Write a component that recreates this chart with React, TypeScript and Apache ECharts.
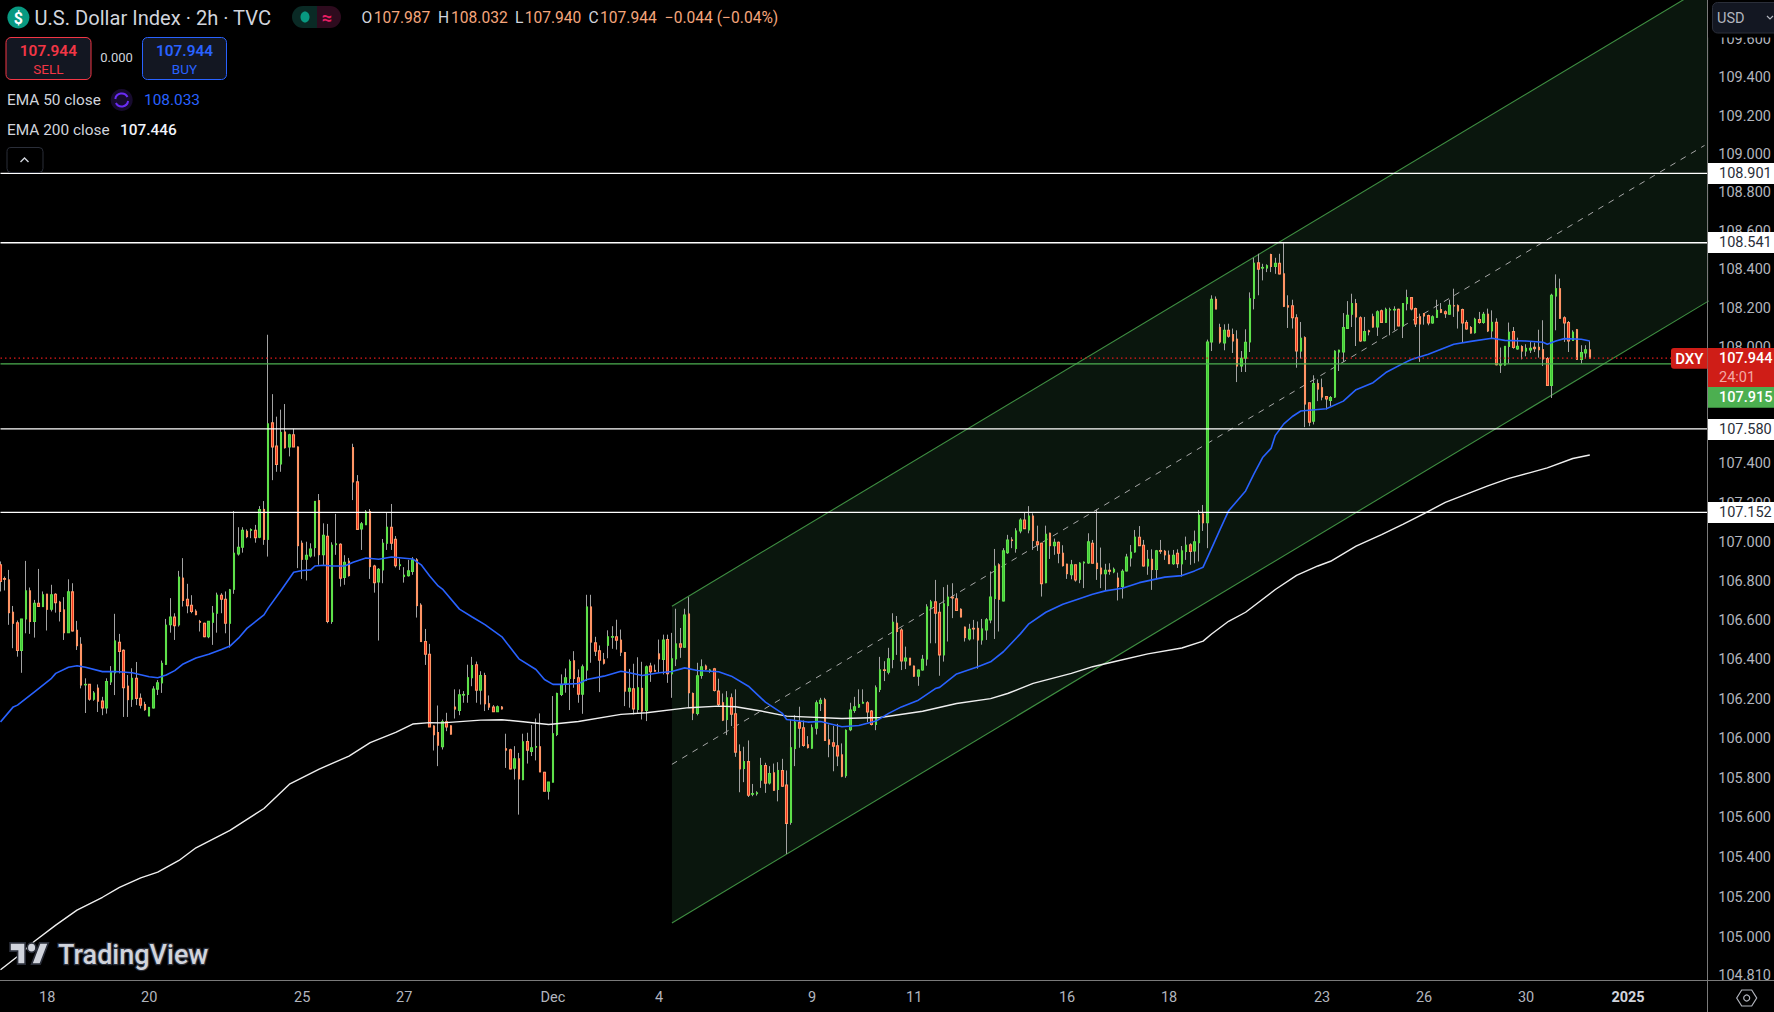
import React, { useEffect, useRef } from "react";
import * as echarts from "echarts";

const opens = [
106.884,106.814,106.807,106.642,106.588,106.447,106.608,106.751,106.595,106.688,
106.671,106.734,106.657,106.734,106.693,106.654,106.538,106.746,106.550,106.479,
106.273,106.275,106.200,106.256,106.190,106.156,106.288,106.334,106.489,106.448,
106.266,106.200,106.306,106.204,106.173,106.115,106.156,106.251,106.283,106.377,
106.578,106.617,106.578,106.816,106.708,106.678,106.647,106.595,106.586,106.518,
106.591,106.637,106.729,106.708,106.586,106.759,106.940,106.974,107.055,107.060,
107.060,107.025,107.167,107.014,107.611,107.492,107.400,107.564,107.487,107.550,
107.487,106.994,106.912,106.929,106.972,107.212,106.936,107.030,106.595,106.987,
106.989,106.819,106.902,107.484,107.308,107.067,107.089,107.156,106.878,106.797,
106.858,106.994,107.076,107.014,106.880,106.824,106.829,106.850,106.909,106.678,
106.493,106.428,106.064,106.031,105.959,106.086,106.065,106.160,106.143,106.221,
106.224,106.309,106.375,106.246,106.320,106.177,106.160,106.136,106.160,105.949,
105.944,105.851,105.898,105.793,105.986,105.935,105.957,105.959,105.830,105.734,
105.780,106.021,106.224,106.275,106.305,106.395,106.309,106.226,106.348,106.669,
106.486,106.446,106.400,106.474,106.515,106.517,106.500,106.437,106.241,106.253,
106.148,106.255,106.143,106.368,106.346,106.430,106.402,106.503,106.329,106.405,
106.481,106.464,106.633,106.229,106.128,106.320,106.368,106.344,106.354,106.241,
106.182,106.097,106.207,106.126,105.934,105.849,105.884,105.719,105.722,105.790,
105.864,105.776,105.827,105.743,105.839,105.766,105.577,105.950,106.081,106.055,
105.969,105.952,106.053,106.179,106.197,105.994,105.979,105.964,105.918,105.813,
106.045,106.143,106.160,106.180,106.182,106.140,106.072,106.250,106.349,106.337,
106.402,106.586,106.552,106.394,106.408,106.368,106.317,106.348,106.404,106.668,
106.695,106.642,106.425,106.676,106.719,106.710,106.657,106.566,106.506,106.560,
106.560,106.501,106.552,106.603,106.712,106.884,106.700,106.946,107.011,106.967,
107.057,107.113,107.062,107.133,107.001,106.994,106.793,107.045,106.982,106.999,
106.943,106.887,106.833,106.884,106.810,106.894,106.894,106.994,106.892,106.867,
106.838,106.856,106.848,106.816,106.773,106.853,106.919,106.950,107.025,106.984,
106.878,106.912,106.860,106.957,106.953,106.933,106.889,106.943,106.889,106.952,
106.986,106.955,106.997,107.144,107.099,108.028,108.248,108.102,108.023,108.088,
108.066,108.042,107.904,107.944,108.028,108.253,108.437,108.410,108.410,108.480,
108.418,108.434,108.380,108.215,108.215,108.153,107.981,108.050,107.715,107.620,
107.813,107.792,107.746,107.727,107.744,107.976,107.976,108.098,108.171,108.226,
108.153,108.035,108.085,108.158,108.105,108.189,108.129,108.193,108.193,108.196,
108.110,108.226,108.257,108.200,108.158,108.174,108.164,108.126,108.155,108.195,
108.184,108.171,108.215,108.215,108.195,108.128,108.102,108.076,108.143,108.128,
108.171,108.085,108.129,107.909,107.909,108.005,108.081,107.992,108.004,107.981,
107.986,108.000,108.000,107.988,107.942,107.804,108.265,108.303,108.153,108.128,
108.036,108.091,107.938,107.971,107.987];

const highs = [
106.901,106.824,106.858,106.674,106.600,106.608,106.904,106.768,106.705,106.863,
106.748,106.734,106.782,106.739,106.700,106.719,106.810,106.790,106.598,106.515,
106.306,106.275,106.241,106.275,106.212,106.306,106.368,106.634,106.532,106.453,
106.323,106.357,106.389,106.229,106.187,106.161,106.266,106.297,106.396,106.608,
106.714,106.637,106.853,106.918,106.787,106.729,106.657,106.603,106.589,106.596,
106.674,106.742,106.739,106.748,106.761,107.159,107.076,107.076,107.065,107.070,
107.088,107.184,107.210,108.065,107.759,107.643,107.679,107.708,107.555,107.581,
107.490,107.008,107.002,106.994,107.208,107.246,107.096,107.093,106.999,107.144,
106.994,106.933,106.919,107.504,107.343,107.103,107.164,107.169,106.884,106.867,
107.016,107.150,107.195,107.031,106.916,106.872,106.909,106.923,106.918,106.688,
106.557,106.481,106.068,106.168,106.097,106.131,106.067,106.250,106.250,106.241,
106.375,106.415,106.391,106.342,106.334,106.219,106.170,106.168,106.165,106.025,
105.949,105.962,105.928,106.025,106.030,106.069,106.102,106.128,105.832,105.781,
106.216,106.233,106.326,106.356,106.402,106.444,106.351,106.376,106.731,106.731,
106.517,106.473,106.435,106.550,106.571,106.604,106.554,106.440,106.354,106.380,
106.413,106.390,106.371,106.385,106.376,106.503,106.528,106.528,106.537,106.660,
106.562,106.660,106.719,106.234,106.385,106.402,106.376,106.354,106.359,106.304,
106.229,106.241,106.229,106.250,105.971,105.959,105.991,105.771,105.734,105.903,
105.878,105.861,105.874,105.881,105.898,105.839,106.097,106.119,106.162,106.092,
106.013,106.072,106.194,106.207,106.207,106.072,106.064,106.075,105.976,106.047,
106.182,106.212,106.250,106.250,106.190,106.145,106.270,106.415,106.393,106.461,
106.637,106.623,106.561,106.467,106.409,106.370,106.351,106.425,106.683,106.705,
106.807,106.688,106.770,106.782,106.790,106.739,106.662,106.569,106.583,106.603,
106.595,106.608,106.612,106.850,106.965,106.892,106.969,107.037,107.025,107.071,
107.122,107.152,107.184,107.147,107.084,106.997,107.084,107.048,107.018,107.003,
106.984,106.889,106.909,106.885,106.897,106.901,107.045,107.011,107.167,106.972,
106.889,106.892,106.870,106.844,106.861,106.940,106.985,107.062,107.082,107.011,
106.960,106.963,106.960,107.011,106.960,106.957,106.960,106.963,106.980,107.028,
106.994,107.059,107.164,107.190,108.040,108.269,108.263,108.122,108.119,108.122,
108.097,108.088,107.981,108.093,108.284,108.463,108.484,108.432,108.429,108.484,
108.463,108.484,108.539,108.269,108.246,108.171,108.131,108.057,107.715,107.856,
107.835,107.839,107.749,107.749,107.985,107.988,108.177,108.239,108.277,108.250,
108.160,108.157,108.091,108.174,108.191,108.195,108.205,108.205,108.212,108.200,
108.229,108.298,108.260,108.205,108.174,108.177,108.169,108.165,108.246,108.229,
108.191,108.246,108.303,108.222,108.200,108.140,108.110,108.153,108.183,108.183,
108.200,108.191,108.150,107.999,108.007,108.128,108.105,108.050,108.011,108.016,
108.029,108.024,108.091,108.140,107.950,108.277,108.377,108.355,108.160,108.136,
108.088,108.095,108.011,108.011,108.032];

const lows = [
106.748,106.753,106.578,106.459,106.416,106.334,106.535,106.532,106.513,106.671,
106.671,106.549,106.646,106.640,106.595,106.501,106.538,106.544,106.450,106.255,
106.130,106.192,106.192,106.135,106.119,106.127,106.272,106.221,106.331,106.110,
106.110,106.161,106.170,106.153,106.141,106.115,106.153,106.221,106.232,106.374,
106.538,106.501,106.569,106.671,106.637,106.637,106.627,106.544,106.515,106.510,
106.476,106.538,106.637,106.535,106.462,106.736,106.931,106.946,107.020,107.020,
106.997,107.020,106.986,106.926,107.317,107.360,107.360,107.479,107.439,107.487,
106.867,106.812,106.804,106.921,106.926,106.884,106.884,106.586,106.583,106.935,
106.773,106.782,106.824,107.215,107.062,106.960,107.088,106.812,106.742,106.498,
106.790,106.960,106.960,106.870,106.858,106.793,106.824,106.833,106.615,106.493,
106.374,106.059,105.940,105.861,105.945,106.038,106.021,106.102,106.119,106.182,
106.182,106.266,106.182,106.173,106.140,106.145,106.135,106.135,106.148,105.852,
105.844,105.793,105.616,105.790,105.874,105.912,105.890,105.832,105.734,105.692,
105.780,106.013,106.216,106.233,106.145,106.258,106.182,106.126,106.292,106.385,
106.419,106.236,106.376,106.408,106.456,106.452,106.419,106.165,106.157,106.123,
106.131,106.097,106.089,106.288,106.341,106.334,106.326,106.283,106.207,106.368,
106.410,106.461,106.157,106.094,106.118,106.304,106.348,106.334,106.239,106.165,
106.089,106.018,106.064,105.908,105.729,105.780,105.705,105.709,105.712,105.751,
105.726,105.768,105.737,105.683,105.756,105.418,105.565,105.861,105.954,105.959,
105.950,105.949,106.021,106.140,105.988,105.906,105.835,105.861,105.805,105.802,
106.038,106.131,106.157,106.179,106.084,106.067,106.043,106.236,106.292,106.326,
106.357,106.425,106.348,106.353,106.372,106.314,106.268,106.345,106.370,106.484,
106.484,106.319,106.391,106.493,106.612,106.649,106.617,106.493,106.498,106.504,
106.355,106.477,106.501,106.586,106.506,106.544,106.697,106.940,106.969,106.946,
107.045,107.067,107.045,106.960,106.955,106.722,106.790,106.914,106.935,106.892,
106.875,106.812,106.810,106.798,106.790,106.765,106.889,106.892,106.807,106.765,
106.751,106.833,106.841,106.702,106.712,106.850,106.875,106.946,106.980,106.875,
106.833,106.756,106.810,106.940,106.909,106.889,106.884,106.868,106.824,106.909,
106.884,106.892,106.901,107.057,106.969,107.981,108.198,108.019,107.985,108.050,
107.971,107.821,107.873,107.873,107.976,108.196,108.269,108.346,108.389,108.389,
108.380,108.377,108.208,108.100,108.097,107.895,107.942,107.589,107.594,107.603,
107.723,107.727,107.680,107.696,107.739,107.878,107.925,108.095,108.105,108.007,
108.028,108.031,108.062,108.102,108.059,108.126,108.126,108.062,108.088,108.109,
108.048,108.191,108.191,108.105,107.925,108.117,108.114,108.122,108.153,108.177,
108.152,108.169,108.157,108.097,108.026,108.091,108.071,108.071,108.122,108.122,
108.079,108.045,107.907,107.868,107.906,107.916,107.993,107.988,107.938,107.954,
107.971,107.976,107.947,107.904,107.801,107.739,108.088,108.148,108.028,107.976,
108.033,107.937,107.916,107.942,107.940];

const closes = [
106.799,106.810,106.640,106.586,106.447,106.608,106.751,106.595,106.688,106.671,
106.731,106.657,106.731,106.691,106.646,106.538,106.746,106.547,106.472,106.272,
106.275,106.200,106.231,106.190,106.156,106.290,106.338,106.496,106.442,106.258,
106.198,106.306,106.204,106.170,106.147,106.158,106.251,106.283,106.382,106.576,
106.617,106.574,106.821,106.702,106.676,106.646,106.630,106.591,106.518,106.596,
106.637,106.729,106.708,106.586,106.756,106.943,106.974,107.060,107.028,107.064,
107.023,107.167,107.014,107.606,107.487,107.397,107.562,107.484,107.550,107.487,
106.982,106.912,106.933,106.965,107.208,106.936,107.035,106.595,106.984,106.991,
106.816,106.897,106.829,107.308,107.065,107.093,107.154,106.875,106.793,106.861,
106.994,107.076,106.994,106.880,106.884,106.831,106.853,106.909,106.676,106.493,
106.428,106.059,106.020,105.967,106.086,106.059,106.023,106.150,106.222,106.224,
106.309,106.371,106.246,106.320,106.177,106.160,106.136,106.162,106.151,105.942,
105.847,105.898,105.797,105.984,105.942,105.954,105.960,105.832,105.734,105.781,
106.025,106.229,106.273,106.309,106.391,106.305,106.226,106.364,106.669,106.490,
106.444,106.398,106.383,106.517,106.518,106.500,106.439,106.241,106.255,106.151,
106.258,106.140,106.364,106.339,106.342,106.405,106.501,106.329,106.405,106.481,
106.464,106.628,106.233,106.130,106.319,106.364,106.353,106.348,106.244,106.173,
106.094,106.207,106.124,105.932,105.847,105.884,105.714,105.722,105.726,105.864,
105.775,105.824,105.739,105.839,105.759,105.572,105.954,106.084,106.053,105.966,
105.955,106.055,106.182,106.195,105.991,105.972,105.962,105.912,105.810,106.042,
106.145,106.162,106.173,106.184,106.135,106.072,106.258,106.349,106.346,106.405,
106.591,106.544,106.394,106.409,106.374,106.317,106.348,106.402,106.669,106.695,
106.637,106.425,106.685,106.719,106.715,106.651,106.618,106.513,106.555,106.557,
106.501,106.557,106.603,106.720,106.877,106.708,106.955,107.011,107.008,107.057,
107.113,107.069,107.133,107.008,106.987,106.788,107.040,106.982,106.999,106.943,
106.880,106.839,106.884,106.807,106.892,106.897,107.001,106.892,106.865,106.838,
106.856,106.851,106.861,106.773,106.851,106.923,106.948,107.025,106.982,106.878,
106.912,106.860,106.955,106.953,106.935,106.890,106.933,106.890,106.955,106.984,
106.952,107.001,107.137,107.099,108.028,108.248,108.198,108.028,108.088,108.057,
108.033,107.904,107.944,108.026,108.251,108.435,108.404,108.413,108.422,108.418,
108.434,108.380,108.212,108.208,108.153,107.981,108.047,107.708,107.615,107.813,
107.785,107.744,107.734,107.741,107.980,107.985,108.102,108.165,108.226,108.157,
108.033,108.081,108.081,108.105,108.184,108.129,108.196,108.195,108.196,108.110,
108.226,108.257,108.198,108.121,108.121,108.162,108.126,108.158,108.191,108.181,
108.174,108.217,108.214,108.188,108.126,108.095,108.074,108.145,108.128,108.171,
108.085,108.129,107.911,107.911,108.005,108.078,107.999,108.005,107.981,107.995,
107.995,107.993,107.988,107.940,107.804,108.269,108.303,108.150,108.126,108.033,
108.078,107.938,107.973,107.988,107.944];

const ema50Index = [0,3,4,8,12,13,16,18,20,24,27,31,35,37,39,41,43,46,49,52,54,56,58,62,63,66,69,71,73,74,76,78,81,83,86,89,92,97,99,101,103,104,108,111,114,118,120,122,126,128,130,132,136,138,142,146,148,151,155,158,161,164,169,172,176,180,184,185,190,193,198,202,206,209,212,216,220,221,225,230,233,236,240,242,246,250,253,257,260,264,268,271,274,278,281,283,285,287,289,293,295,297,299,300,302,304,306,312,316,319,323,326,330,332,336,342,346,351,354,359,363,364,366,368,372,374];
const ema50Value = [106.085,106.161,106.170,106.237,106.306,106.331,106.362,106.370,106.362,106.340,106.341,106.334,106.314,106.309,106.323,106.345,106.379,106.409,106.428,106.453,106.470,106.510,106.560,106.629,106.663,106.753,106.846,106.855,106.858,106.878,106.882,106.878,106.878,106.897,106.919,106.912,106.924,106.914,106.884,106.827,106.776,106.76,106.658,106.618,106.579,106.517,106.461,106.405,106.351,106.30,106.275,106.275,106.28,106.30,106.317,106.342,106.334,106.32,106.334,106.341,106.359,106.346,106.339,106.317,106.266,106.185,106.128,106.097,106.084,106.087,106.06,106.067,106.089,106.128,106.161,106.195,106.254,106.26,106.328,106.365,106.39,106.441,106.532,106.583,106.642,106.683,106.705,106.734,106.751,106.764,106.793,106.807,106.821,106.829,106.853,106.872,106.968,107.065,107.16,107.262,107.351,107.433,107.48,107.547,107.606,107.644,107.672,107.684,107.723,107.782,107.818,107.87,107.916,107.937,107.964,108.016,108.031,108.047,108.036,108.033,108.026,108.016,108.033,108.045,108.042,108.033];

const ema200Index = [0,4,8,13,18,24,28,33,37,42,46,54,62,68,75,82,87,93,97,101,104,113,118,123,129,136,146,152,162,169,173,179,185,198,207,217,225,233,237,243,252,257,262,270,278,283,285,289,293,300,305,310,313,319,325,330,335,340,345,350,355,360,364,370,374];
const ema200Value = [104.836,104.903,104.979,105.06,105.135,105.2,105.25,105.297,105.326,105.385,105.449,105.537,105.647,105.77,105.846,105.912,105.98,106.032,106.074,106.081,106.08,106.094,106.096,106.086,106.072,106.087,106.123,106.131,106.157,106.165,106.162,106.14,106.114,106.102,106.107,106.139,106.178,106.203,106.229,106.28,106.331,106.365,106.39,106.43,106.46,106.495,106.531,106.596,106.642,106.758,106.83,106.878,106.902,106.979,107.038,107.091,107.146,107.203,107.245,107.288,107.326,107.356,107.38,107.428,107.446];

const priceTicks = [109.6,109.4,109.2,109.0,108.8,108.6,108.4,108.2,108.0,107.8,107.6,107.4,107.2,107.0,106.8,106.6,106.4,106.2,106.0,105.8,105.6,105.4,105.2,105.0,104.81];
const dateTickIndex = [11,35,71,95,130,155,191,215,251,275,311,335,359,383];
const dateTickLabels = ["18","20","25","27","Dec","4","9","11","16","18","23","26","30","2025"];
const slotCount = 403;

const whiteLevels = [108.901,108.541,107.58,107.152];
const supportLevel = 107.915;
const lastPrice = 107.944;

const channelIndex = [158,402];
const channelTop = [106.673,109.888];
const channelBottom = [105.071,108.24];
const channelMidIndex = [158,401];
const channelMid = [105.87,109.047];

const FONT = "Roboto, sans-serif";
const priceMin = 104.785;
const priceMax = 109.807;
const toAxis = (p: number) => Math.log(p);

echarts.graphic.registerShape(
  "tvlogo",
  echarts.graphic.extendPath("M14 22H7V11H0V4h14v18zM28 22h-8l7.5-18h8L28 22zM24 8a4 4 0 1 1-8 0a4 4 0 1 1 8 0z", {})
);

function txt(text: string, x: number, y: number, fill: string, size: number, extra: any = {}) {
  const { weight = 400, align = "left", z = 110 } = extra;
  return {
    type: "text", z, silent: true,
    style: { text, x, y, fill, font: `${weight} ${size}px ${FONT}`, textAlign: align, textVerticalAlign: "middle" },
  };
}
function box(x: number, y: number, width: number, height: number, fill: string, extra: any = {}) {
  const { stroke, r = 0, z = 105, lineWidth = 1 } = extra;
  return {
    type: "rect", z, silent: true,
    shape: { x, y, width, height, r },
    style: stroke ? { fill, stroke, lineWidth } : { fill },
  };
}

function levelSeries(price: number, color: string, width: number, lineType: any, z: number) {
  const y = toAxis(price);
  return {
    type: "line", z, silent: true, showSymbol: false,
    data: [[0, y], [slotCount - 1, y]],
    lineStyle: { color, width, type: lineType },
  };
}

function buildGraphics() {
  const ohlc = "#f5a67c";
  const head = "#d1d4dc";
  const elems: any[] = [
    box(1708, 980.5, 66, 32, "#000", { z: 100 }),
    box(1708, 0, 66, 37.5, "#000", { z: 100 }),
    { type: "line", z: 101, silent: true, shape: { x1: 0, y1: 980.5, x2: 1774, y2: 980.5 }, style: { stroke: "#7a7a7a", lineWidth: 1 } },
    { type: "line", z: 101, silent: true, shape: { x1: 1707.5, y1: 0, x2: 1707.5, y2: 1012 }, style: { stroke: "#7a7a7a", lineWidth: 1 } },

    { type: "circle", z: 105, silent: true, shape: { cx: 18.4, cy: 17.5, r: 11 }, style: { fill: "#089981" } },
    txt("$", 18.4, 18, "#ffffff", 16, { weight: 700, align: "center" }),
    txt("U.S. Dollar Index · 2h · TVC", 34.5, 18, head, 20.1),

    box(292, 6, 25, 22, "#0a2a25", { r: [11, 0, 0, 11] }),
    box(317, 6, 24, 22, "#2e0b1e", { r: [0, 11, 11, 0] }),
    { type: "ellipse", z: 106, silent: true, shape: { cx: 305, cy: 17, rx: 4.5, ry: 5.5 }, style: { fill: "#089981" } },
    txt("≈", 327, 17, "#e91e63", 18, { weight: 700, align: "center" }),

    txt("O", 361.6, 17.5, head, 15.6),
    txt("107.987", 373.7, 17.5, ohlc, 15.6),
    txt("H", 438, 17.5, head, 15.6),
    txt("108.032", 451, 17.5, ohlc, 15.6),
    txt("L", 515, 17.5, head, 15.6),
    txt("107.940", 524.7, 17.5, ohlc, 15.6),
    txt("C", 588.4, 17.5, head, 15.6),
    txt("107.944", 600, 17.5, ohlc, 15.6),
    txt("−0.044 (−0.04%)", 664.8, 17.5, ohlc, 15.6),

    box(6, 37.5, 85, 42, "#131722", { stroke: "#f23645", r: 5 }),
    txt("107.944", 48.4, 51, "#f23645", 15.4, { weight: 600, align: "center" }),
    txt("SELL", 48.4, 68.5, "#f23645", 13.5, { align: "center" }),
    txt("0.000", 116.5, 57.5, head, 13, { align: "center" }),
    box(142.5, 37.5, 84, 42, "#131722", { stroke: "#2962ff", r: 5 }),
    txt("107.944", 184.5, 51, "#2962ff", 15.4, { weight: 600, align: "center" }),
    txt("BUY", 184.5, 68.5, "#2962ff", 13.5, { align: "center" }),

    txt("EMA 50 close", 7, 100, head, 15.4),
    { type: "circle", z: 105, silent: true, shape: { cx: 121.7, cy: 100, r: 11 }, style: { fill: "#170b2e" } },
    { type: "arc", z: 106, silent: true, shape: { cx: 121.7, cy: 100, r: 6.5, startAngle: Math.PI * 1.05, endAngle: Math.PI * 1.85 }, style: { stroke: "#6a2cf5", lineWidth: 2, fill: "none" } },
    { type: "arc", z: 106, silent: true, shape: { cx: 121.7, cy: 100, r: 6.5, startAngle: Math.PI * 0.05, endAngle: Math.PI * 0.85 }, style: { stroke: "#6a2cf5", lineWidth: 2, fill: "none" } },
    txt("108.033", 144, 100, "#2962ff", 15.4),
    txt("EMA 200 close", 7, 129.7, head, 15.4),
    txt("107.446", 120, 129.7, "#f0f3fa", 15.4, { weight: 500 }),

    box(7, 147.5, 36, 25, "#000", { stroke: "#2a2e39", r: 4 }),
    { type: "polyline", z: 106, silent: true, shape: { points: [[20.5, 162], [24.5, 158], [28.5, 162]] }, style: { stroke: "#d1d4dc", lineWidth: 1.4, fill: "none" } },

    box(1712.5, 2.5, 70, 30.5, "#131722", { stroke: "#2a2e39", r: 5 }),
    txt("USD", 1717, 18, "#b2b5be", 14.5),
    { type: "polyline", z: 106, silent: true, shape: { points: [[1767, 16], [1770, 19], [1773, 16]] }, style: { stroke: "#b2b5be", lineWidth: 1.2, fill: "none" } },
  ];
  const whites: [string, number][] = [["108.901", 163], ["108.541", 232], ["107.580", 419], ["107.152", 502]];
  whites.forEach(([t, y]) => {
    elems.push(box(1708, y, 66, 21, "#ffffff"));
    elems.push(txt(t, 1719, y + 10.8, "#2a2e39", 14.5));
  });
  elems.push(box(1671, 348, 36.5, 20.7, "#cf1d17", { r: [3, 0, 0, 3] }));
  elems.push(txt("DXY", 1689.3, 358.7, "#ffffff", 15, { weight: 500, align: "center" }));
  elems.push(box(1708, 348, 66, 39, "#cf1d17"));
  elems.push(txt("107.944", 1719, 358.7, "#ffffff", 14.5, { weight: 500 }));
  elems.push(txt("24:01", 1719, 377, "#f2a9a4", 14.5));
  elems.push(box(1708, 387, 66, 20.7, "#4caf50"));
  elems.push(txt("107.915", 1719, 397.7, "#ffffff", 14.5, { weight: 500 }));

  elems.push({
    type: "tvlogo", z: 110, silent: true, x: 10, y: 938.3, scaleX: 1.08, scaleY: 1.17,
    style: { fill: "#d1d4dc", stroke: "#2a2e39", lineWidth: 1.5 },
  });
  elems.push({
    type: "text", z: 110, silent: true,
    style: { text: "TradingView", x: 58, y: 955, fill: "#d1d4dc", stroke: "#2a2e39", lineWidth: 2.5, font: `500 27px ${FONT}`, textAlign: "left", textVerticalAlign: "middle" },
  });

  elems.push({
    type: "polygon", z: 106, silent: true,
    shape: { points: [[1736.7, 998], [1741.7, 990], [1751.7, 990], [1756.7, 998], [1751.7, 1006], [1741.7, 1006]] },
    style: { fill: "none", stroke: "#b2b5be", lineWidth: 1.2 },
  });
  elems.push({ type: "circle", z: 106, silent: true, shape: { cx: 1746.7, cy: 998, r: 3 }, style: { fill: "none", stroke: "#b2b5be", lineWidth: 1.2 } });
  return elems;
}

export default function App() {
  const ref = useRef<HTMLDivElement>(null);
  useEffect(() => {
    document.body.style.margin = "0";
    document.body.style.background = "#000";
    const chart = echarts.init(ref.current!, undefined, { renderer: "svg" });
    const categories = Array.from({ length: slotCount }, (_, i) => {
      const k = dateTickIndex.indexOf(i);
      return k >= 0 ? dateTickLabels[k] : "";
    });
    const wickData = opens.map((o, i) => [toAxis(o), toAxis(closes[i]), toAxis(lows[i]), toAxis(highs[i])]);
    const bodyData = opens.map((o, i) => {
      const a = toAxis(o), b = toAxis(closes[i]);
      return [a, b, Math.min(a, b), Math.max(a, b)];
    });
    chart.setOption({
      animation: false,
      backgroundColor: "#000000",
      textStyle: { fontFamily: FONT },
      grid: { left: 0.5, top: 0, width: 1708.5, height: 980, containLabel: false },
      xAxis: {
        type: "category",
        data: categories,
        boundaryGap: false,
        axisLine: { show: false },
        axisTick: { show: false },
        splitLine: { show: false },
        axisLabel: {
          interval: (i: number) => dateTickIndex.includes(i),
          hideOverlap: false,
          color: "#b2b5be",
          fontSize: 14.5,
          fontFamily: FONT,
          margin: 10,
          formatter: (v: string) => (v === "2025" ? "{b|2025}" : v),
          rich: { b: { fontWeight: 700, color: "#d1d4dc", fontSize: 14.5, fontFamily: FONT } },
        },
      },
      yAxis: {
        type: "value",
        position: "right",
        min: toAxis(priceMin),
        max: toAxis(priceMax),
        axisLine: { show: false },
        axisTick: { show: false },
        splitLine: { show: false },
        axisLabel: {
          customValues: priceTicks.map(toAxis),
          color: "#b2b5be",
          fontSize: 14.5,
          fontFamily: FONT,
          margin: 9.5,
          showMinLabel: true,
          showMaxLabel: true,
          formatter: (v: number) => Math.exp(v).toFixed(3),
        },
      },
      graphic: { elements: buildGraphics() },
      series: [
        {
          type: "custom",
          z: 1,
          silent: true,
          clip: false,
          data: [[0, 0]],
          renderItem: (_p: any, api: any) => {
            const tl = api.coord([channelIndex[0], toAxis(channelTop[0])]);
            const tr = api.coord([channelIndex[1], toAxis(channelTop[1])]);
            const bl = api.coord([channelIndex[0], toAxis(channelBottom[0])]);
            const br = api.coord([channelIndex[1], toAxis(channelBottom[1])]);
            const ml = api.coord([channelMidIndex[0], toAxis(channelMid[0])]);
            const mr = api.coord([channelMidIndex[1], toAxis(channelMid[1])]);
            const green = "#3f8f42";
            return {
              type: "group",
              children: [
                { type: "polygon", shape: { points: [tl, tr, br, bl] }, style: { fill: "#0a160d" } },
                { type: "line", shape: { x1: tl[0], y1: tl[1], x2: tr[0], y2: tr[1] }, style: { stroke: green, lineWidth: 1.1 } },
                { type: "line", shape: { x1: bl[0], y1: bl[1], x2: br[0], y2: br[1] }, style: { stroke: green, lineWidth: 1.1 } },
                { type: "line", shape: { x1: ml[0], y1: ml[1], x2: mr[0], y2: mr[1] }, style: { stroke: "#a6a6a6", lineWidth: 1, lineDash: [6, 6] } },
              ],
            };
          },
        },
        {
          type: "candlestick",
          z: 3,
          silent: true,
          barWidth: 0.5,
          data: wickData,
          itemStyle: { color: "#a3a3a3", color0: "#a3a3a3", borderColor: "#a3a3a3", borderColor0: "#a3a3a3", borderWidth: 1 },
        },
        {
          type: "candlestick",
          z: 4,
          silent: true,
          barWidth: 2,
          data: bodyData,
          itemStyle: { color: "#3fc93a", color0: "#f6301c", borderColor: "#5ee04a", borderColor0: "#ff9565", borderWidth: 1.1 },
        },
        {
          type: "line",
          z: 5,
          silent: true,
          showSymbol: false,
          data: ema200Index.map((i, k) => [i, toAxis(ema200Value[k])]),
          lineStyle: { color: "#efefef", width: 1.4 },
        },
        {
          type: "line",
          z: 6,
          silent: true,
          showSymbol: false,
          data: ema50Index.map((i, k) => [i, toAxis(ema50Value[k])]),
          lineStyle: { color: "#2962ff", width: 1.6 },
        },
        ...whiteLevels.map((v) => levelSeries(v, "#ffffff", 1.3, "solid", 7)),
        levelSeries(supportLevel, "#4caf50", 1.1, "solid", 7),
        levelSeries(lastPrice, "#e01b1b", 1.2, [1.5, 3], 7),
      ],
    });
    return () => chart.dispose();
  }, []);
  return <div ref={ref} style={{ position: "fixed", left: 0, top: 0, width: 1774, height: 1012, background: "#000" }} />;
}
